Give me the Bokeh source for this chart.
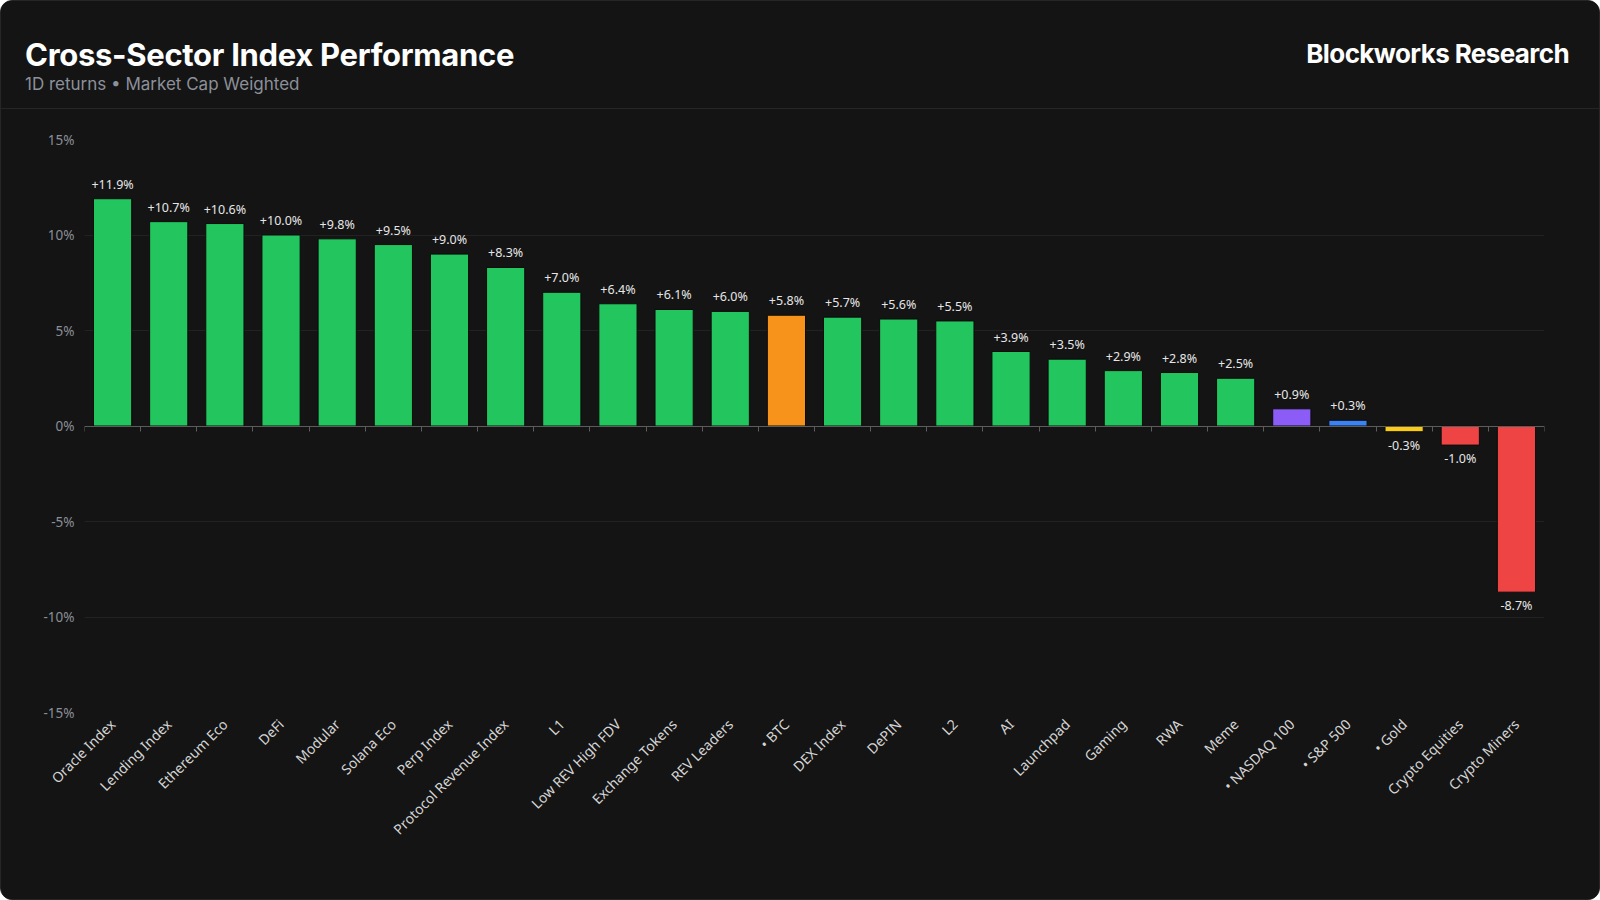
import math
from bokeh.plotting import figure
from bokeh.models import (ColumnDataSource, FixedTicker, LinearAxis, Range1d, Div, Grid)
from bokeh.layouts import column
from bokeh.embed import file_html
from bokeh.resources import INLINE
from bokeh.core.properties import value

# ---------------- data ----------------
categories = ["Oracle Index", "Lending Index", "Ethereum Eco", "DeFi", "Modular",
              "Solana Eco", "Perp Index", "Protocol Revenue Index", "L1", "Low REV High FDV",
              "Exchange Tokens", "REV Leaders", "\u2022 BTC", "DEX Index", "DePIN", "L2", "AI",
              "Launchpad", "Gaming", "RWA", "Meme", "\u2022 NASDAQ 100", "\u2022 S&P 500",
              "\u2022 Gold", "Crypto Equities", "Crypto Miners"]
returns = [11.9, 10.7, 10.6, 10.0, 9.8, 9.5, 9.0, 8.3, 7.0, 6.4, 6.1, 6.0, 5.8, 5.7,
           5.6, 5.5, 3.9, 3.5, 2.9, 2.8, 2.5, 0.9, 0.3, -0.3, -1.0, -8.7]
bar_colors = ["#22c55e"] * 12 + ["#f7931a"] + ["#22c55e"] * 8 + \
             ["#8b5cf6", "#3b82f6", "#facc15", "#ef4444", "#ef4444"]
y_ticks = [-15, -10, -5, 0, 5, 10, 15]
y_tick_labels = ["-15%", "-10%", "-5%", "0%", "5%", "10%", "15%"]

title_text = "Cross-Sector Index Performance"
subtitle_text = "1D returns \u2022 Market Cap Weighted"
brand_text = "Blockworks Research"

# ---------------- layout constants ----------------
BG = "#141414"
W = 1598
HEADER_H = 108
FIG_H = 790

n = len(categories)
x_centers = [i + 0.5 for i in range(n)]
labels = [f"{v:+.1f}%" for v in returns]

src = ColumnDataSource(dict(x=x_centers, top=returns, color=bar_colors, label=labels))
pos_src = ColumnDataSource(dict(
    x=[x for x, v in zip(x_centers, returns) if v >= 0],
    y=[v for v in returns if v >= 0],
    label=[l for l, v in zip(labels, returns) if v >= 0]))
neg_src = ColumnDataSource(dict(
    x=[x for x, v in zip(x_centers, returns) if v < 0],
    y=[v for v in returns if v < 0],
    label=[l for l, v in zip(labels, returns) if v < 0]))

# ---------------- header ----------------
header_html = f"""
<div style="position:relative;box-sizing:border-box;width:{W}px;height:{HEADER_H}px;
border-bottom:1px solid #262626;background:{BG};">
  <div style="position:absolute;left:24px;top:38px;font-family:Inter;font-weight:700;
  font-size:31px;line-height:31px;color:#ffffff;letter-spacing:-0.3px;white-space:nowrap;">{title_text}</div>
  <div style="position:absolute;left:24px;top:75px;font-family:Inter;font-weight:400;
  font-size:17px;line-height:17px;color:#8c9099;white-space:nowrap;">{subtitle_text}</div>
  <div style="position:absolute;right:30px;top:40px;font-family:Inter;font-weight:700;
  font-size:26px;line-height:26px;color:#ffffff;letter-spacing:-0.6px;white-space:nowrap;">{brand_text}</div>
</div>
"""
header = Div(text=header_html, width=W, height=HEADER_H, margin=0,
             styles={"background-color": BG})

# ---------------- chart ----------------
p = figure(width=W, height=FIG_H, output_backend="svg", toolbar_location=None,
           x_range=Range1d(0, n), y_range=Range1d(-15, 15),
           x_axis_type=None, y_axis_type=None,
           min_border_top=30, min_border_bottom=187, min_border_left=83, min_border_right=55,
           background_fill_color=BG, border_fill_color=BG, outline_line_color=None)
p.margin = 0

# y axis
yaxis = LinearAxis(ticker=FixedTicker(ticks=y_ticks),
                   major_label_overrides={t: l for t, l in zip(y_ticks, y_tick_labels)})
yaxis.axis_line_color = None
yaxis.major_tick_line_color = None
yaxis.minor_tick_line_color = None
yaxis.major_label_text_color = "#8a8f98"
yaxis.major_label_text_font = "Noto Sans"
yaxis.major_label_text_font_size = "13.5px"
yaxis.major_label_standoff = 4
p.add_layout(yaxis, "left")
p.add_layout(Grid(dimension=1, ticker=yaxis.ticker, grid_line_color="#222222", grid_line_width=1))

# category labels axis (bottom)
xaxis = LinearAxis(ticker=FixedTicker(ticks=x_centers),
                   major_label_overrides={x: c for x, c in zip(x_centers, categories)})
xaxis.axis_line_color = None
xaxis.major_tick_line_color = None
xaxis.minor_tick_line_color = None
xaxis.major_label_orientation = math.pi / 4
xaxis.major_label_text_color = "#d4d4d4"
xaxis.major_label_text_font = "Noto Sans"
xaxis.major_label_text_font_size = "14px"
xaxis.major_label_standoff = 3
p.add_layout(xaxis, "below")

# bars
p.vbar(x="x", top="top", bottom=0, width=0.68, fill_color="color",
       line_color="#0c0c0c", line_width=1, source=src)

# zero line with boundary ticks
zaxis = LinearAxis(ticker=FixedTicker(ticks=list(range(n + 1))), fixed_location=0)
zaxis.axis_line_color = "#5c5c5c"
zaxis.axis_line_width = 1
zaxis.major_tick_line_color = "#5c5c5c"
zaxis.major_tick_in = 5
zaxis.major_tick_out = 0
zaxis.minor_tick_line_color = None
zaxis.major_label_text_font_size = "0px"
zaxis.major_label_text_alpha = 0
zaxis.major_label_standoff = 0
p.add_layout(zaxis, "above")

# value labels
p.text(x="x", y="y", text="label", source=pos_src, text_align="center",
       text_baseline="bottom", y_offset=-6, text_color="#e6e6e6",
       text_font=value("Noto Sans"), text_font_size="12.5px")
p.text(x="x", y="y", text="label", source=neg_src, text_align="center",
       text_baseline="top", y_offset=5, text_color="#e6e6e6",
       text_font=value("Noto Sans"), text_font_size="12.5px")

layout = column(header, p, spacing=0,
                styles={"background-color": BG, "border": "1px solid #262626",
                        "border-radius": "12px", "overflow": "hidden"})

open("out.html", "w").write(file_html(layout, INLINE))
